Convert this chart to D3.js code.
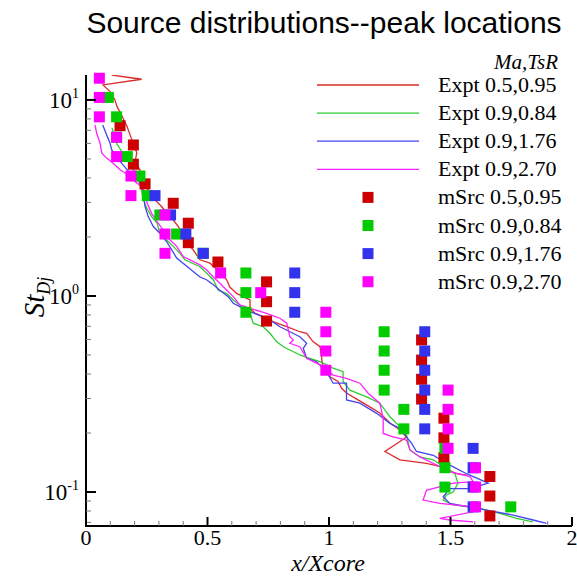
<!DOCTYPE html>
<html>
<head>
<meta charset="utf-8">
<script src="https://cdn.jsdelivr.net/npm/d3@7"></script>
<style>
  html, body { margin: 0; padding: 0; background: #fff; }
  text { font-family: "Liberation Serif", "Times New Roman", serif; }
</style>
</head>
<body>
<div id="chart"></div>
<script>
// ---- data ----
const titleText = "Source distributions--peak locations";
const legendHeader = "Ma,TsR";
const exptLabels = ["Expt 0.5,0.95", "Expt 0.9,0.84", "Expt 0.9,1.76", "Expt 0.9,2.70"];
const msrcLabels = ["mSrc 0.5,0.95", "mSrc 0.9,0.84", "mSrc 0.9,1.76", "mSrc 0.9,2.70"];
const lineColors = ["#dd2a2a", "#2ecc2e", "#4444f0", "#ff22ff"];
const markerColors = ["#cc0000", "#00cc00", "#3333ee", "#ff00ff"];

const xTicks = [0, 0.5, 1, 1.5, 2];
const xTickLabels = ["0", "0.5", "1", "1.5", "2"];
const yMajor = [0.1, 1, 10];
const yExpLabels = ["-1", "0", "1"];

// 1/3-octave band centres (St) where the model peaks were evaluated
const bandsMa09 = [12.9, 10.3, 8.2, 6.45, 5.14, 4.09, 3.25, 2.59, 2.07, 1.65, 1.31, 1.04, 0.826,
  0.657, 0.524, 0.418, 0.331, 0.264, 0.21, 0.167, 0.133, 0.106, 0.084];
const bandsMa05 = [7.39, 5.89, 4.7, 3.73, 2.97, 2.35, 1.87, 1.49, 1.18, 0.935, 0.745, 0.597,
  0.471, 0.376, 0.298, 0.238, 0.189, 0.15, 0.12, 0.0954, 0.0755];

// peak location x/Xcore for each band (null = no marker)
const msrcRed = [0.140, 0.195, 0.195, 0.243, 0.359, 0.421, 0.421, 0.543, 0.743, 0.743, 0.743,
  1.381, 1.381, 1.381, 1.381, 1.473, 1.473, 1.473, 1.662, 1.662, 1.662];
const msrcGreen = [null, 0.092, 0.126, 0.126, 0.170, 0.222, 0.252, 0.304, 0.373, 0.481, 0.658,
  0.658, 0.658, 1.227, 1.227, 1.227, 1.227, 1.308, 1.308, 1.477, 1.477, 1.477, 1.748];
const msrcBlue = [null, null, null, null, null, null, 0.284, 0.348, 0.411, 0.483, 0.859, 0.859,
  0.859, 1.394, 1.394, 1.394, 1.394, 1.394, 1.394, 1.593, 1.593, 1.593, 1.593];
const msrcMagenta = [0.055, 0.055, 0.055, 0.126, 0.126, 0.185, 0.185, 0.325, 0.325, 0.325, 0.554,
  0.719, 0.987, 0.987, 0.987, 0.987, 1.490, 1.490, 1.490, 1.490, 1.603, 1.603, 1.603];

// experimental curves [x/Xcore, St]
const exptRed = [[0.106, 13.4], [0.229, 12.75], [0.070, 11.93], [0.099, 11.02], [0.119, 10.0],
  [0.128, 9.24], [0.152, 8.09], [0.169, 7.31], [0.184, 6.50], [0.193, 6.04], [0.209, 5.37],
  [0.202, 4.84], [0.222, 4.40], [0.234, 3.83], [0.263, 3.35], [0.284, 3.09], [0.311, 2.86],
  [0.332, 2.65], [0.359, 2.44], [0.380, 2.26], [0.394, 2.10], [0.414, 1.89], [0.441, 1.72],
  [0.469, 1.53], [0.510, 1.47], [0.551, 1.33], [0.579, 1.21], [0.592, 1.11], [0.620, 1.03],
  [0.647, 0.992], [0.675, 0.954], [0.675, 0.865], [0.695, 0.819], [0.728, 0.784], [0.769, 0.740],
  [0.826, 0.697], [0.880, 0.657], [0.908, 0.645], [0.934, 0.585], [0.963, 0.551], [0.970, 0.483],
  [0.975, 0.419], [1.004, 0.387], [1.037, 0.366], [1.052, 0.338], [1.072, 0.320], [1.119, 0.295],
  [1.168, 0.272], [1.209, 0.253], [1.251, 0.225], [1.292, 0.207], [1.319, 0.191], [1.292, 0.181],
  [1.230, 0.161], [1.292, 0.146], [1.401, 0.140], [1.456, 0.135], [1.525, 0.124], [1.566, 0.122]];
const exptGreen = [[0.107, 7.19], [0.126, 6.01], [0.147, 5.45], [0.170, 4.94], [0.195, 4.40],
  [0.215, 3.99], [0.229, 3.47], [0.236, 3.09], [0.250, 2.81], [0.270, 2.54], [0.293, 2.35],
  [0.304, 2.09], [0.332, 1.93], [0.359, 1.79], [0.387, 1.65], [0.407, 1.53], [0.469, 1.41],
  [0.496, 1.31], [0.524, 1.21], [0.544, 1.07], [0.579, 1.03], [0.606, 0.954], [0.633, 0.900],
  [0.675, 0.816], [0.688, 0.726], [0.729, 0.697], [0.757, 0.645], [0.784, 0.585], [0.812, 0.551],
  [0.839, 0.530], [0.880, 0.500], [0.921, 0.481], [0.963, 0.462], [1.017, 0.428], [1.058, 0.411],
  [1.058, 0.366], [1.086, 0.331], [1.155, 0.306], [1.209, 0.284], [1.251, 0.242], [1.292, 0.215],
  [1.319, 0.195], [1.333, 0.164], [1.374, 0.151], [1.429, 0.146], [1.470, 0.135], [1.518, 0.124],
  [1.531, 0.111], [1.511, 0.100], [1.484, 0.0966], [1.470, 0.0910], [1.511, 0.0859],
  [1.621, 0.0826], [1.703, 0.0778], [1.772, 0.0734], [1.839, 0.0705]];
const exptBlue = [[0.069, 7.45], [0.085, 6.63], [0.099, 6.01], [0.106, 5.56], [0.126, 5.14],
  [0.147, 4.75], [0.170, 4.40], [0.188, 4.14], [0.215, 3.91], [0.229, 3.61], [0.236, 3.34],
  [0.243, 2.86], [0.256, 2.54], [0.277, 2.26], [0.304, 2.09], [0.332, 1.89], [0.353, 1.72],
  [0.373, 1.56], [0.469, 1.25], [0.496, 1.21], [0.524, 1.14], [0.551, 1.07], [0.585, 0.992],
  [0.606, 0.918], [0.633, 0.882], [0.675, 0.832], [0.709, 0.800], [0.757, 0.755], [0.798, 0.697],
  [0.839, 0.657], [0.880, 0.620], [0.908, 0.574], [0.894, 0.541], [0.908, 0.481], [0.949, 0.462],
  [0.990, 0.411], [1.017, 0.359], [1.072, 0.359], [1.072, 0.295], [1.127, 0.284], [1.196, 0.252],
  [1.251, 0.224], [1.292, 0.211], [1.319, 0.191], [1.340, 0.177], [1.360, 0.161], [1.429, 0.154],
  [1.484, 0.140], [1.566, 0.124], [1.655, 0.111], [1.580, 0.104], [1.497, 0.104], [1.470, 0.0946],
  [1.497, 0.0875], [1.648, 0.0809], [1.758, 0.0763], [1.840, 0.0720], [1.895, 0.0692]];
const exptMagenta = [[0.037, 7.45], [0.044, 6.76], [0.058, 6.01], [0.065, 5.35], [0.085, 5.05],
  [0.112, 4.75], [0.140, 4.40], [0.174, 4.14], [0.202, 3.83], [0.229, 3.61], [0.243, 3.34],
  [0.252, 2.97], [0.270, 2.64], [0.297, 2.35], [0.318, 2.17], [0.346, 1.93], [0.373, 1.79],
  [0.400, 1.59], [0.469, 1.44], [0.496, 1.36], [0.524, 1.25], [0.551, 1.16], [0.579, 1.07],
  [0.606, 0.992], [0.633, 0.900], [0.675, 0.865], [0.743, 0.816], [0.798, 0.770], [0.826, 0.726],
  [0.839, 0.620], [0.853, 0.597], [0.839, 0.574], [0.880, 0.551], [0.908, 0.481], [0.963, 0.445],
  [1.017, 0.395], [1.072, 0.380], [1.127, 0.359], [1.161, 0.319], [1.209, 0.284], [1.223, 0.238],
  [1.223, 0.199], [1.264, 0.191], [1.319, 0.184], [1.333, 0.164], [1.374, 0.151], [1.429, 0.140],
  [1.497, 0.127], [1.580, 0.120], [1.593, 0.113], [1.511, 0.111], [1.401, 0.102], [1.387, 0.0910],
  [1.456, 0.0875], [1.593, 0.0841], [1.593, 0.0793], [1.456, 0.0734], [1.497, 0.0720],
  [1.593, 0.0705]];

// ---- layout ----
const W = 577, H = 577;
const plot = { left: 86, right: 572, top: 75, bottom: 526 };

const svg = d3.select("#chart").append("svg")
  .attr("width", W).attr("height", H);

const x = d3.scaleLinear().domain([0, 2]).range([plot.left, plot.right]);
const y = d3.scaleLog().domain([0.0671, 13.4]).range([plot.bottom, plot.top]);

svg.append("defs").append("clipPath").attr("id", "clip")
  .append("rect")
  .attr("x", plot.left).attr("y", plot.top)
  .attr("width", plot.right - plot.left).attr("height", plot.bottom - plot.top);

// title
svg.append("text")
  .attr("x", 324).attr("y", 33)
  .attr("text-anchor", "middle")
  .style("font-family", "'Liberation Sans', Arial, sans-serif")
  .style("font-size", "30px")
  .text(titleText);

// experimental lines
const line = d3.line().x(d => x(d[0])).y(d => y(d[1]));
const lines = svg.append("g").attr("clip-path", "url(#clip)");
[exptRed, exptGreen, exptBlue, exptMagenta].forEach((data, i) => {
  lines.append("path")
    .datum(data)
    .attr("d", line)
    .attr("fill", "none")
    .attr("stroke", lineColors[i])
    .attr("stroke-width", 1.3);
});

// model markers
const ms = 11;
const markerSets = [
  [bandsMa05, msrcRed],
  [bandsMa09, msrcGreen],
  [bandsMa09, msrcBlue],
  [bandsMa09, msrcMagenta]
];
markerSets.forEach(([bands, xs], i) => {
  const pts = bands.map((st, k) => [xs[k], st]).filter(d => d[0] !== null);
  svg.append("g").selectAll("rect")
    .data(pts)
    .enter().append("rect")
    .attr("x", d => x(d[0]) - ms / 2)
    .attr("y", d => y(d[1]) - ms / 2)
    .attr("width", ms).attr("height", ms)
    .attr("fill", markerColors[i]);
});

// axes
const axes = svg.append("g");
axes.append("line")
  .attr("x1", plot.left).attr("x2", plot.left)
  .attr("y1", plot.top).attr("y2", plot.bottom + 1)
  .attr("stroke", "#000").attr("stroke-width", 2);
axes.append("line")
  .attr("x1", plot.left - 1).attr("x2", plot.right)
  .attr("y1", plot.bottom).attr("y2", plot.bottom)
  .attr("stroke", "#000").attr("stroke-width", 2);

// y minor ticks
const yMinor = [];
[0.01, 0.1, 1, 10].forEach(dec => {
  for (let m = 2; m <= 9; m++) {
    const v = dec * m;
    if (v > y.domain()[0] && v < y.domain()[1]) yMinor.push(v);
  }
});
axes.selectAll(".ymin").data(yMinor).enter().append("line")
  .attr("x1", plot.left).attr("x2", plot.left + 5)
  .attr("y1", d => y(d)).attr("y2", d => y(d))
  .attr("stroke", "#777").attr("stroke-width", 1);
axes.selectAll(".ymaj").data(yMajor).enter().append("line")
  .attr("x1", plot.left).attr("x2", plot.left + 10)
  .attr("y1", d => y(d)).attr("y2", d => y(d))
  .attr("stroke", "#000").attr("stroke-width", 2);

const yLab = axes.selectAll(".ylab").data(yMajor).enter().append("text")
  .attr("x", plot.left - 7)
  .attr("y", d => y(d) + 8)
  .attr("text-anchor", "end")
  .style("font-size", "23px");
yLab.append("tspan").text("10");
yLab.append("tspan")
  .attr("dy", -10)
  .style("font-size", "14px")
  .text((d, i) => yExpLabels[i]);

// x ticks
const xMinor = d3.range(1, 20).map(i => i / 10).filter(v => Math.abs(v * 2 - Math.round(v * 2)) > 1e-6);
axes.selectAll(".xmin").data(xMinor).enter().append("line")
  .attr("x1", d => x(d)).attr("x2", d => x(d))
  .attr("y1", plot.bottom).attr("y2", plot.bottom - 5)
  .attr("stroke", "#777").attr("stroke-width", 1);
axes.selectAll(".xmaj").data(xTicks).enter().append("line")
  .attr("x1", d => x(d)).attr("x2", d => x(d))
  .attr("y1", plot.bottom).attr("y2", plot.bottom - 9)
  .attr("stroke", "#000").attr("stroke-width", 2);
axes.selectAll(".xlab").data(xTicks).enter().append("text")
  .attr("x", d => x(d))
  .attr("y", plot.bottom + 19)
  .attr("text-anchor", "middle")
  .style("font-size", "22px")
  .text((d, i) => xTickLabels[i]);

// axis titles
svg.append("text")
  .attr("x", 328).attr("y", 571)
  .attr("text-anchor", "middle")
  .style("font-size", "24px").style("font-style", "italic")
  .text("x/Xcore");

const yTitle = svg.append("text")
  .attr("transform", "translate(44,297) rotate(-90)")
  .attr("text-anchor", "middle")
  .style("font-style", "italic");
yTitle.append("tspan").style("font-size", "29px").text("St");
yTitle.append("tspan").attr("dy", 6).style("font-size", "18px").text("Dj");

// legend
const legend = svg.append("g");
legend.append("text")
  .attr("x", 558).attr("y", 69)
  .attr("text-anchor", "end")
  .style("font-size", "21px").style("font-style", "italic")
  .text(legendHeader);

const rowY = i => 85 + i * 28.1;
exptLabels.forEach((lab, i) => {
  legend.append("line")
    .attr("x1", 317).attr("x2", 419)
    .attr("y1", rowY(i)).attr("y2", rowY(i))
    .attr("stroke", lineColors[i]).attr("stroke-width", 1.3);
  legend.append("text")
    .attr("x", 438).attr("y", rowY(i) + 7)
    .style("font-size", "22px")
    .text(lab);
});
msrcLabels.forEach((lab, i) => {
  const r = i + 4;
  legend.append("rect")
    .attr("x", 368 - ms / 2).attr("y", rowY(r) - ms / 2)
    .attr("width", ms).attr("height", ms)
    .attr("fill", markerColors[i]);
  legend.append("text")
    .attr("x", 438).attr("y", rowY(r) + 7)
    .style("font-size", "22px")
    .text(lab);
});
</script>
</body>
</html>
